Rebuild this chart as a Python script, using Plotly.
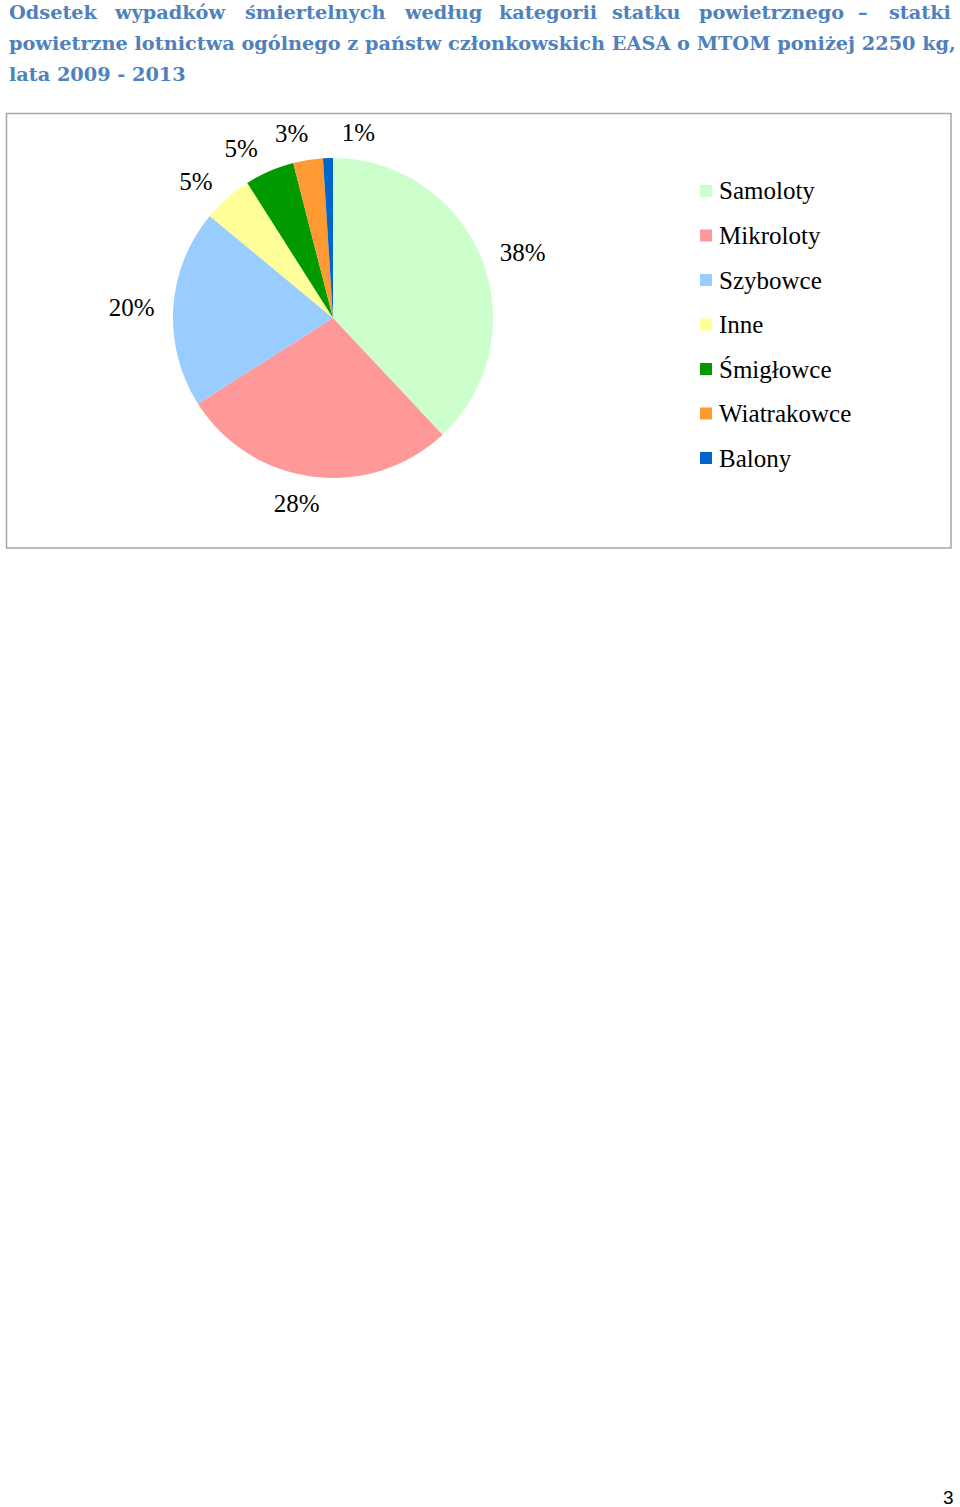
import plotly.graph_objects as go

# Dane (odsetek wypadków śmiertelnych, %)
kategorie = ['Samoloty', 'Mikroloty', 'Szybowce', 'Inne', 'Śmigłowce', 'Wiatrakowce', 'Balony']
odsetek = [38, 28, 20, 5, 5, 3, 1]
kolory = ['#CCFFCC', '#FF9999', '#99CCFF', '#FFFF99', '#009900', '#FF9933', '#0066CC']

tytul_1 = ['Odsetek', 'wypadków', 'śmiertelnych', 'według', 'kategorii',
           'statku', 'powietrznego', '–', 'statki']
tytul_2 = 'powietrzne lotnictwa ogólnego z państw członkowskich EASA o MTOM poniżej 2250 kg,'
tytul_3 = 'lata 2009 - 2013'

W, H = 960, 1507
NIEBIESKI = '#4F81BD'
FONT_TYTUL = 'DejaVu Serif'
FONT_WYKRES = 'Liberation Serif'


def px(x):
    return x / W


def py(y):
    return 1 - y / H


fig = go.Figure()

# Wykres kołowy (bez etykiet)
fig.add_trace(go.Pie(labels=kategorie, values=odsetek, sort=False,
                     direction='clockwise', rotation=0,
                     marker=dict(colors=kolory, line=dict(width=0)),
                     textinfo='none', showlegend=False, hoverinfo='label+percent',
                     domain=dict(x=[px(173), px(493)], y=[py(478), py(158)])))

# Etykiety procentowe - przezroczyste, nieco większe koło, każda etykieta osobno
# (żeby plotly nie przesuwał ich i nie rysował linii odniesienia).
# Kilka etykiet lekko przesuniętych po okręgu, tak jak ułożył je oryginał.
obrot_etykiet = {1: -5, 5: 3, 6: 2.5}
for i in range(len(kategorie)):
    pozycje = ['outside' if j == i else 'none' for j in range(len(kategorie))]
    fig.add_trace(go.Pie(labels=kategorie, values=odsetek, sort=False,
                         direction='clockwise', rotation=obrot_etykiet.get(i, 0),
                         marker=dict(colors=['rgba(0,0,0,0)'] * len(kategorie), line=dict(width=0)),
                         textinfo='percent', textposition=pozycje,
                         outsidetextfont=dict(family=FONT_WYKRES, size=25, color='black'),
                         showlegend=False, hoverinfo='skip',
                         domain=dict(x=[px(161), px(505)], y=[py(490), py(146)])))

adnotacje = []
ksztalty = []

# Tytuł - pierwsza linia wyjustowana (słowo po słowie)
srodki_1 = [None, 169.5, 315, 443.5, 547.5, 646.5, 771.5, 863, None]
for k, (slowo, x) in enumerate(zip(tytul_1, srodki_1)):
    if k == 0:
        x, kotwica = 7, 'left'
    elif k == len(tytul_1) - 1:
        x, kotwica = 953, 'right'
    else:
        kotwica = 'center'
    adnotacje.append(dict(text='<b>%s</b>' % slowo, x=px(x), y=py(13), xref='paper', yref='paper',
                          xanchor=kotwica, yanchor='middle', showarrow=False,
                          font=dict(family=FONT_TYTUL, size=19.3, color=NIEBIESKI)))
adnotacje.append(dict(text='<b>%s</b>' % tytul_2, x=px(7), y=py(44), xref='paper', yref='paper',
                      xanchor='left', yanchor='middle', showarrow=False,
                      font=dict(family=FONT_TYTUL, size=19.3, color=NIEBIESKI)))
adnotacje.append(dict(text='<b>%s</b>' % tytul_3, x=px(7), y=py(75), xref='paper', yref='paper',
                      xanchor='left', yanchor='middle', showarrow=False,
                      font=dict(family=FONT_TYTUL, size=19.3, color=NIEBIESKI)))

# Ramka wykresu
ksztalty.append(dict(type='rect', xref='paper', yref='paper',
                     x0=px(6.5), x1=px(951), y0=py(548), y1=py(113.5),
                     line=dict(color='#A6A6A6', width=1.5)))

# Legenda
for i, (nazwa, kolor) in enumerate(zip(kategorie, kolory)):
    yc = 191 + 44.5 * i
    ksztalty.append(dict(type='rect', xref='paper', yref='paper',
                         x0=px(700), x1=px(712), y0=py(yc + 6), y1=py(yc - 6),
                         fillcolor=kolor, line=dict(width=0)))
    adnotacje.append(dict(text=nazwa, x=px(717), y=py(yc), xref='paper', yref='paper',
                          xanchor='left', yanchor='middle', showarrow=False,
                          font=dict(family=FONT_WYKRES, size=25, color='black')))

# Numer strony
adnotacje.append(dict(text='3', x=px(948), y=py(1497), xref='paper', yref='paper',
                      xanchor='center', yanchor='middle', showarrow=False,
                      font=dict(family='Liberation Sans', size=19, color='black')))

fig.update_layout(width=W, height=H, margin=dict(l=0, r=0, t=0, b=0),
                  paper_bgcolor='white', plot_bgcolor='white',
                  annotations=adnotacje, shapes=ksztalty)

# bez domyślnego marginesu strony, żeby figura zaczynała się w rogu okna
fig.write_html("out.html", config={'displayModeBar': False},
               post_script="document.body.style.margin = '0';")
